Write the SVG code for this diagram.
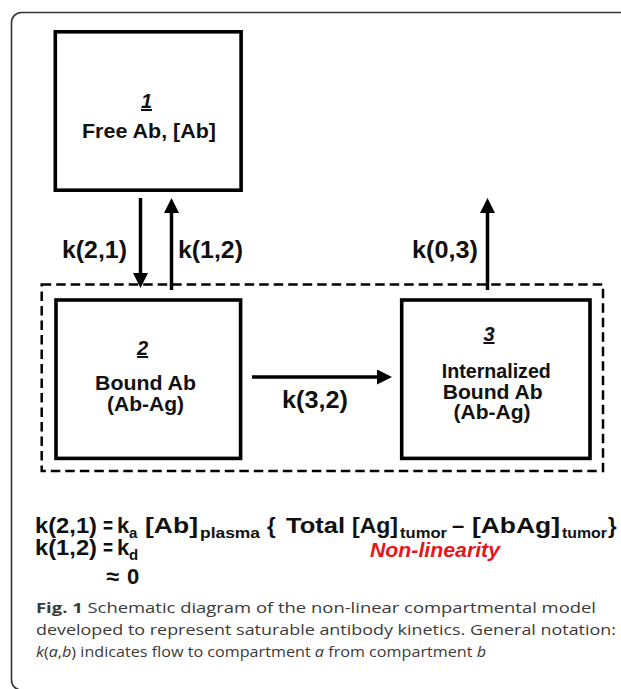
<svg xmlns="http://www.w3.org/2000/svg" width="621" height="689" viewBox="0 0 621 689">
<style>
.box{fill:#fff;stroke:#000;stroke-width:3.6}
.lbl{font-family:"Liberation Sans",Arial,sans-serif;font-weight:bold;fill:#111}
.num{font-style:italic;text-decoration:underline}
.arr{stroke:#000;stroke-width:3.5;fill:none;marker-end:url(#ah)}
.eq{font-family:"Liberation Sans",Arial,sans-serif;font-weight:bold;fill:#111;font-size:22px}
.sub{font-size:15px}
.cap{font-family:"Open Sans","Liberation Sans",sans-serif;fill:#3a3a3a;font-size:15px}
</style>
<defs>
<marker id="ah" markerUnits="userSpaceOnUse" markerWidth="16" markerHeight="16" refX="5" refY="7.5" orient="auto">
<path d="M0,0 L15,7.5 L0,15 z" fill="#000"/>
</marker>
</defs>
<rect width="621" height="689" fill="#fff"/>
<path d="M621,12.5 H21.5 A10,10 0 0 0 11.5,22.5 V680 A10,10 0 0 0 21.5,690" fill="none" stroke="#333" stroke-width="1.6"/>

<g id="tumor-region">
<rect x="41.7" y="284.5" width="561.3" height="186.5" fill="none" stroke="#000" stroke-width="2.5" stroke-dasharray="9.5 5"/>
</g>

<g id="node1">
<rect class="box" x="55.3" y="31.8" width="185.8" height="158.4"/>
<text class="lbl num" x="146.5" y="108" font-size="20" text-anchor="middle">1</text>
<text class="lbl" x="149" y="138" font-size="20" text-anchor="middle" textLength="134" lengthAdjust="spacingAndGlyphs">Free Ab, [Ab]</text>
</g>

<g id="node2">
<rect class="box" x="56" y="300" width="184.6" height="158.4"/>
<text class="lbl num" x="142.6" y="355" font-size="20" text-anchor="middle">2</text>
<text class="lbl" x="145.5" y="390" font-size="20" text-anchor="middle" textLength="101" lengthAdjust="spacingAndGlyphs">Bound Ab</text>
<text class="lbl" x="145.5" y="411" font-size="20" text-anchor="middle" textLength="77" lengthAdjust="spacingAndGlyphs">(Ab-Ag)</text>
</g>

<g id="node3">
<rect class="box" x="401.7" y="300" width="188.3" height="158.4"/>
<text class="lbl num" x="489" y="341" font-size="20" text-anchor="middle">3</text>
<text class="lbl" x="496.3" y="378" font-size="20" text-anchor="middle" textLength="109" lengthAdjust="spacingAndGlyphs">Internalized</text>
<text class="lbl" x="492.7" y="399" font-size="20" text-anchor="middle" textLength="100" lengthAdjust="spacingAndGlyphs">Bound Ab</text>
<text class="lbl" x="492" y="419" font-size="20" text-anchor="middle" textLength="77" lengthAdjust="spacingAndGlyphs">(Ab-Ag)</text>
</g>

<g id="connectors">
<line class="arr" x1="140.5" y1="198" x2="140.5" y2="278"/>
<line class="arr" x1="171.5" y1="290" x2="171.5" y2="208"/>
<line class="arr" x1="487.5" y1="290" x2="487.5" y2="208"/>
<line class="arr" x1="252" y1="377" x2="382" y2="377"/>
<text class="lbl" x="62" y="258" font-size="23" textLength="65" lengthAdjust="spacingAndGlyphs">k(2,1)</text>
<text class="lbl" x="178" y="258" font-size="23" textLength="65" lengthAdjust="spacingAndGlyphs">k(1,2)</text>
<text class="lbl" x="412" y="258" font-size="23" textLength="66" lengthAdjust="spacingAndGlyphs">k(0,3)</text>
<text class="lbl" x="282" y="408" font-size="23" textLength="66" lengthAdjust="spacingAndGlyphs">k(3,2)</text>
</g>

<g id="equations">
<text class="eq" y="533">
<tspan x="35" textLength="62" lengthAdjust="spacingAndGlyphs">k(2,1)</tspan>
<tspan x="103" textLength="10" lengthAdjust="spacingAndGlyphs">=</tspan>
<tspan x="117">k</tspan>
<tspan x="129" y="538" class="sub">a</tspan>
<tspan x="145" y="533" textLength="53" lengthAdjust="spacingAndGlyphs">[Ab]</tspan>
<tspan x="200" y="538" class="sub" textLength="60" lengthAdjust="spacingAndGlyphs">plasma</tspan>
<tspan x="267" y="533">{</tspan>
<tspan x="286" textLength="59" lengthAdjust="spacingAndGlyphs">Total</tspan>
<tspan x="352" textLength="46" lengthAdjust="spacingAndGlyphs">[Ag]</tspan>
<tspan x="400" y="538" class="sub" textLength="47" lengthAdjust="spacingAndGlyphs">tumor</tspan>
<tspan x="452" y="533">–</tspan>
<tspan x="472" textLength="88" lengthAdjust="spacingAndGlyphs">[AbAg]</tspan>
<tspan x="562" y="538" class="sub" textLength="45" lengthAdjust="spacingAndGlyphs">tumor</tspan>
<tspan x="608" y="533">}</tspan>
</text>
<text class="eq" y="555">
<tspan x="35" textLength="62" lengthAdjust="spacingAndGlyphs">k(1,2)</tspan>
<tspan x="103" textLength="10" lengthAdjust="spacingAndGlyphs">=</tspan>
<tspan x="117">k</tspan>
<tspan x="129" y="560" class="sub">d</tspan>
</text>
<text class="eq" y="584"><tspan x="106" textLength="13" lengthAdjust="spacingAndGlyphs">≈</tspan><tspan x="127">0</tspan></text>
<text x="370" y="557" font-family="Liberation Sans,Arial,sans-serif" font-weight="bold" font-style="italic" font-size="21" fill="#e8141b" textLength="130" lengthAdjust="spacingAndGlyphs">Non-linearity</text>
</g>

<g id="caption">
<text class="cap" x="36" y="613" textLength="560" lengthAdjust="spacingAndGlyphs"><tspan font-weight="bold">Fig. 1</tspan> Schematic diagram of the non-linear compartmental model</text>
<text class="cap" x="36" y="635" textLength="580" lengthAdjust="spacingAndGlyphs">developed to represent saturable antibody kinetics. General notation:</text>
<text class="cap" x="36" y="657" textLength="450" lengthAdjust="spacingAndGlyphs"><tspan font-style="italic">k</tspan>(<tspan font-style="italic">a</tspan>,<tspan font-style="italic">b</tspan>) indicates flow to compartment <tspan font-style="italic">a</tspan> from compartment <tspan font-style="italic">b</tspan></text>
</g>
</svg>
